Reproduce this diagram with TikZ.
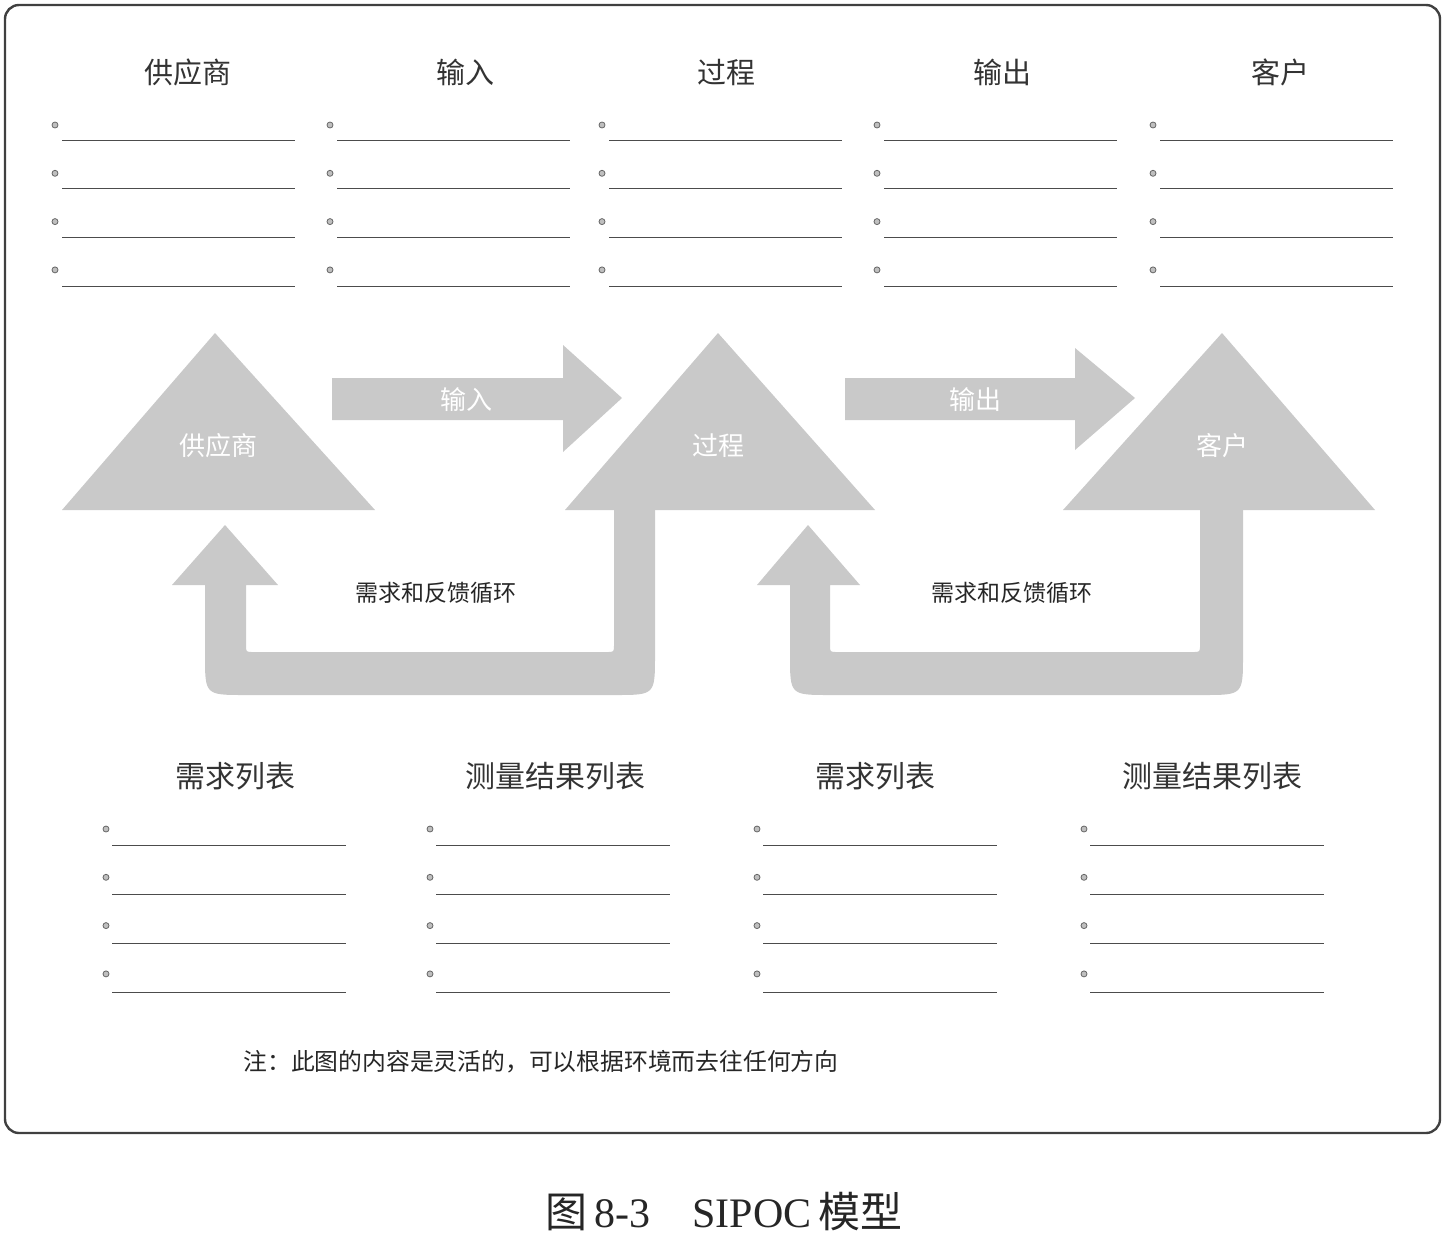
\documentclass[tikz,border=0pt]{standalone}
\usepackage{fontspec}
\setmainfont{Noto Sans CJK SC}
\newfontfamily\latinserif{Liberation Serif}
\begin{document}
\begin{tikzpicture}[x=0.5pt,y=-0.5pt,
  blk/.style={fill=gray!42,draw=none},
  frame/.style={draw=black!75,line width=1.2pt,rounded corners=7pt},
  hdr/.style={font=\fontsize{14.5}{17}\selectfont,text=black!80,inner sep=0pt},
  bhdr/.style={font=\fontsize{15}{18}\selectfont,text=black!80,inner sep=0pt},
  shplabel/.style={font=\fontsize{13}{15}\selectfont,text=white,inner sep=0pt},
  fblabel/.style={font=\fontsize{11.5}{14}\selectfont,text=black!85,inner sep=0pt},
  notelabel/.style={font=\fontsize{11.9}{14}\selectfont,text=black!85,inner sep=0pt},
  caption/.style={font=\fontsize{21}{25}\selectfont,text=black!85,inner sep=0pt},
  bullet/.style={circle,draw=black!60,fill=black!25,line width=0.4pt,inner sep=0pt,minimum size=3pt},
  rule/.style={draw=black!70,line width=0.5pt}]
\useasboundingbox (0,0) rectangle (1446,1237);
\path[frame] (5,5) rectangle (1440,1133);
% top headers
\foreach \x/\t/\n in {188/供应商/s,465/输入/i,726/过程/p,1002/输出/o,1280/客户/c}
  \node[hdr] (h\n) at (\x,72) {\t};
% top bullet lists
\foreach \bx in {55,330,602,877,1153}{
  \foreach \r in {0,1,2,3}{
    \node[bullet] (tb-\bx-\r) at (\bx,{125+48.3*\r}) {};
    \draw[rule] (\bx+7,{140+48.7*\r}) -- (\bx+240,{140+48.7*\r});
  }
}
% triangles
\fill[blk] (62,510) -- (215,333) -- (375,510) -- cycle;
\fill[blk] (565,510) -- (718,333) -- (875,510) -- cycle;
\fill[blk] (1063,510) -- (1222,333) -- (1375,510) -- cycle;
% right arrows
\fill[blk] (332,378) -- (563,378) -- (563,345) -- (622,398) -- (563,452) -- (563,420) -- (332,420) -- cycle;
\fill[blk] (845,378) -- (1075,378) -- (1075,348) -- (1135,398) -- (1075,450) -- (1075,420) -- (845,420) -- cycle;
% feedback U arrows
\fill[blk] (614,505) -- (614,645) .. controls (614,652) .. (607,652) -- (253,652)
  .. controls (246,652) .. (246,645) -- (246,585) -- (278,585) -- (225,525) -- (172,585)
  -- (205,585) -- (205,655) .. controls (205,695) .. (245,695) -- (615,695)
  .. controls (655,695) .. (655,655) -- (655,505) -- cycle;
\fill[blk] (1200,505) -- (1200,645) .. controls (1200,652) .. (1193,652) -- (837,652)
  .. controls (830,652) .. (830,645) -- (830,585) -- (860,585) -- (808,525) -- (757,585)
  -- (790,585) -- (790,655) .. controls (790,695) .. (830,695) -- (1203,695)
  .. controls (1243,695) .. (1243,655) -- (1243,505) -- cycle;
% labels in shapes
\node[shplabel] (ts) at (218,446) {供应商};
\node[shplabel] (tp) at (718,446) {过程};
\node[shplabel] (tc) at (1222,446) {客户};
\node[shplabel] (ai) at (466,400) {输入};
\node[shplabel] (ao) at (975,400) {输出};
\node[fblabel] (fb1) at (436,593) {需求和反馈循环};
\node[fblabel] (fb2) at (1012,593) {需求和反馈循环};
% bottom headers
\foreach \x/\t/\n in {235/需求列表/1,555/测量结果列表/2,875/需求列表/3,1212/测量结果列表/4}
  \node[bhdr] (bh\n) at (\x,776) {\t};
% bottom bullet lists
\foreach \bx in {106,430,757,1084}{
  \foreach \r in {0,1,2,3}{
    \node[bullet] (bb-\bx-\r) at (\bx,{829+48.3*\r}) {};
    \draw[rule] (\bx+6,{845+49*\r}) -- (\bx+240,{845+49*\r});
  }
}
% note
\node[notelabel,anchor=west] (note) at (243,1062) {注：此图的内容是灵活的，可以根据环境而去往任何方向};
% caption
\node[caption] (cap) at (724,1212) {图\,{\latinserif 8-3}\hspace{1em}{\latinserif SIPOC}\,模型};
\end{tikzpicture}
\end{document}
